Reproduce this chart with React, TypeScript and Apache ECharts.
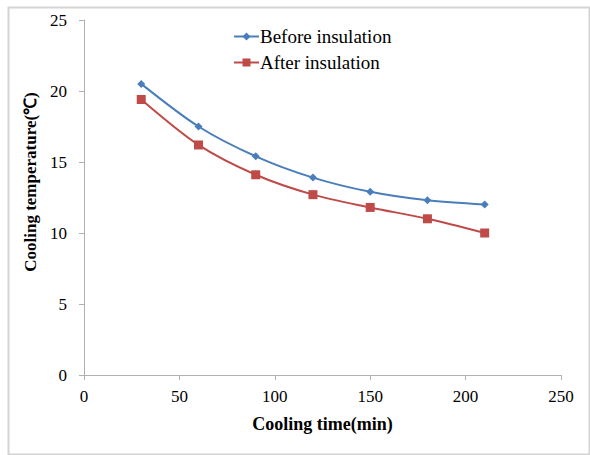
import React, { useEffect, useRef } from "react";
import * as echarts from "echarts";

const timeMin = [30, 60, 90, 120, 150, 180, 210];
const beforeInsulation = [20.5, 17.5, 15.4, 13.9, 12.9, 12.3, 12.0];
const afterInsulation = [19.4, 16.2, 14.1, 12.7, 11.8, 11.0, 10.0];
const seriesNames = ["Before insulation", "After insulation"];
const xTitle = "Cooling time(min)";
const yTitle = "Cooling temperature(℃)";

const FONT = "'Liberation Serif', 'Times New Roman', serif";

export default function App() {
  const ref = useRef<HTMLDivElement>(null);
  useEffect(() => {
    document.body.style.margin = "0";
    const chart = echarts.init(ref.current!, null, { renderer: "svg" });
    const axisLine = { show: true, lineStyle: { color: "#b0b0b0", width: 1 } };
    chart.setOption({
      animation: false,
      backgroundColor: "#ffffff",
      grid: { left: 84, right: 29, top: 20, bottom: 80 },
      legend: {
        orient: "vertical",
        left: 228,
        top: 22,
        itemWidth: 25,
        itemHeight: 10,
        itemGap: 7,
        textStyle: { fontFamily: FONT, fontSize: 19, color: "#000", padding: [0, 0, 0, -4] },
        data: seriesNames,
      },
      xAxis: {
        type: "value",
        min: 0,
        max: 250,
        interval: 50,
        name: xTitle,
        nameLocation: "middle",
        nameGap: 40,
        nameTextStyle: { fontFamily: FONT, fontSize: 18, fontWeight: "bold", color: "#000" },
        axisLine,
        axisTick: { show: true, inside: false, length: 5, lineStyle: { color: "#b0b0b0" } },
        axisLabel: { fontFamily: FONT, fontSize: 17, color: "#000", margin: 13 },
        splitLine: { show: false },
      },
      yAxis: {
        type: "value",
        min: 0,
        max: 25,
        interval: 5,
        axisLine,
        axisTick: { show: true, inside: false, length: 5, lineStyle: { color: "#b0b0b0" } },
        axisLabel: { fontFamily: FONT, fontSize: 17, color: "#000", margin: 17 },
        splitLine: { show: false },
      },
      graphic: [
        {
          type: "rect",
          left: 6,
          top: 5,
          shape: { x: 0, y: 0, width: 581, height: 447 },
          style: { fill: "none", stroke: "#d4d4d4", lineWidth: 2 },
          silent: true,
        },
        {
          type: "text",
          x: 30,
          y: 182,
          rotation: Math.PI / 2,
          style: {
            text: yTitle,
            font: `bold 17px ${FONT}`,
            fill: "#000",
            align: "center",
            verticalAlign: "middle",
          },
        },
      ],
      series: [
        {
          name: seriesNames[0],
          type: "line",
          smooth: 0.3,
          data: timeMin.map((t, i) => [t, beforeInsulation[i]]),
          symbol: "diamond",
          symbolSize: 8,
          lineStyle: { color: "#4a7ebb", width: 2 },
          itemStyle: { color: "#4a7ebb" },
        },
        {
          name: seriesNames[1],
          type: "line",
          smooth: 0.3,
          data: timeMin.map((t, i) => [t, afterInsulation[i]]),
          symbol: "rect",
          symbolSize: 9,
          lineStyle: { color: "#be4b48", width: 2 },
          itemStyle: { color: "#be4b48" },
        },
      ],
    });
    return () => chart.dispose();
  }, []);
  return <div ref={ref} style={{ width: 590, height: 455 }} />;
}
